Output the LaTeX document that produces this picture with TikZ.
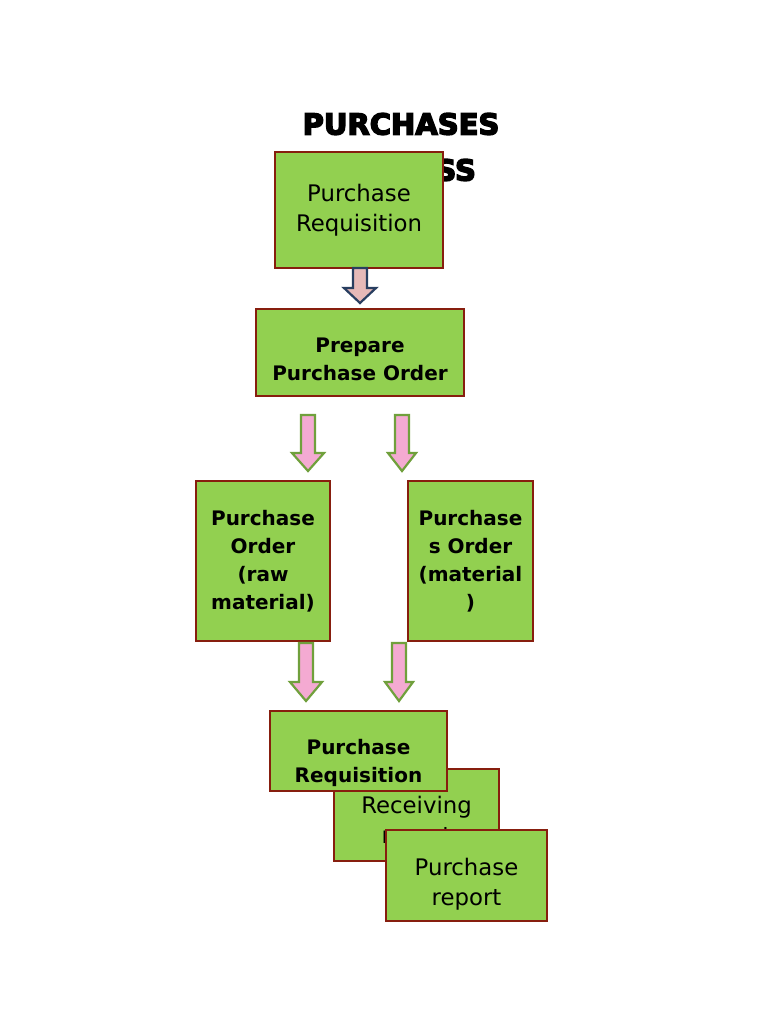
\documentclass[tikz,border=0pt]{standalone}
\usepackage{fontspec}
\setmainfont{DejaVu Sans}
\newfontfamily\heavyfont[FakeBold=5]{DejaVu Sans Bold}
\definecolor{boxgreen}{RGB}{146,208,80}
\definecolor{boxred}{RGB}{135,30,14}
\definecolor{arrpink}{RGB}{244,170,210}
\definecolor{arrrose}{RGB}{230,185,184}
\definecolor{arrgreen}{RGB}{112,160,60}
\definecolor{arrnavy}{RGB}{40,62,96}
\tikzset{
  box/.style={draw=boxred,fill=boxgreen,line width=2.6pt,inner sep=0pt,align=center,text=black},
  plaintxt/.style={font=\fontsize{22.8}{30}\selectfont},
  boldtxt/.style={font=\fontsize{20}{28}\selectfont\bfseries},
  pinkarr/.style={draw=arrgreen,fill=arrpink,line width=2.2pt,line join=miter},
  rosearr/.style={draw=arrnavy,fill=arrrose,line width=2.2pt,line join=miter}
}
% #1 style, #2 x, #3 top, #4 tip, #5 head half width, #6 head length
\newcommand{\downarr}[6]{%
  \draw[#1] (#2-7,#3) -- (#2+7,#3) -- (#2+7,#4-#6) -- (#2+#5,#4-#6) -- (#2,#4)
    -- (#2-#5,#4-#6) -- (#2-7,#4-#6) -- cycle;}
% strut that pushes the text of a box down
\newcommand{\lowstrut}[1]{\rule{0pt}{#1pt}}

\begin{document}
\begin{tikzpicture}[x=1pt,y=-1pt]
\useasboundingbox[fill=white] (0,0) rectangle (768,1024);
% title, mostly covered by the first box
\node[font=\fontsize{29}{46}\heavyfont,align=center] (title) at (401,147) {PURCHASES\\PROCESS};
% boxes
\node[box,plaintxt,minimum width=168pt,minimum height=116pt] (req) at (359,210) {Purchase\\Requisition};
\node[box,boldtxt,minimum width=208pt,minimum height=87pt] (prep) at (360,352.5) {\lowstrut{29}Prepare\\Purchase Order};
\node[box,boldtxt,minimum width=134pt,minimum height=160pt] (raw) at (263,561) {Purchase\\Order\\(raw\\material)};
\node[box,boldtxt,minimum width=125pt,minimum height=160pt] (mat) at (470.5,561) {Purchase\\s Order\\(material\\)};
\node[box,plaintxt,minimum width=165pt,minimum height=92pt] (recv) at (416.5,815) {\lowstrut{31}Receiving\\report};
\node[box,boldtxt,minimum width=177pt,minimum height=80pt] (req2) at (358.5,751) {\lowstrut{39}Purchase\\Requisition};
\node[box,plaintxt,minimum width=161pt,minimum height=91pt] (rep) at (466.5,875.5) {\lowstrut{35}Purchase\\report};
% block arrows
\downarr{rosearr}{360}{268}{303}{16}{15}
\downarr{pinkarr}{308}{415}{471}{16}{18}
\downarr{pinkarr}{402}{415}{471}{14}{18}
\downarr{pinkarr}{306}{643}{701}{16}{19}
\downarr{pinkarr}{399}{643}{701}{14}{19}
\end{tikzpicture}
\end{document}
